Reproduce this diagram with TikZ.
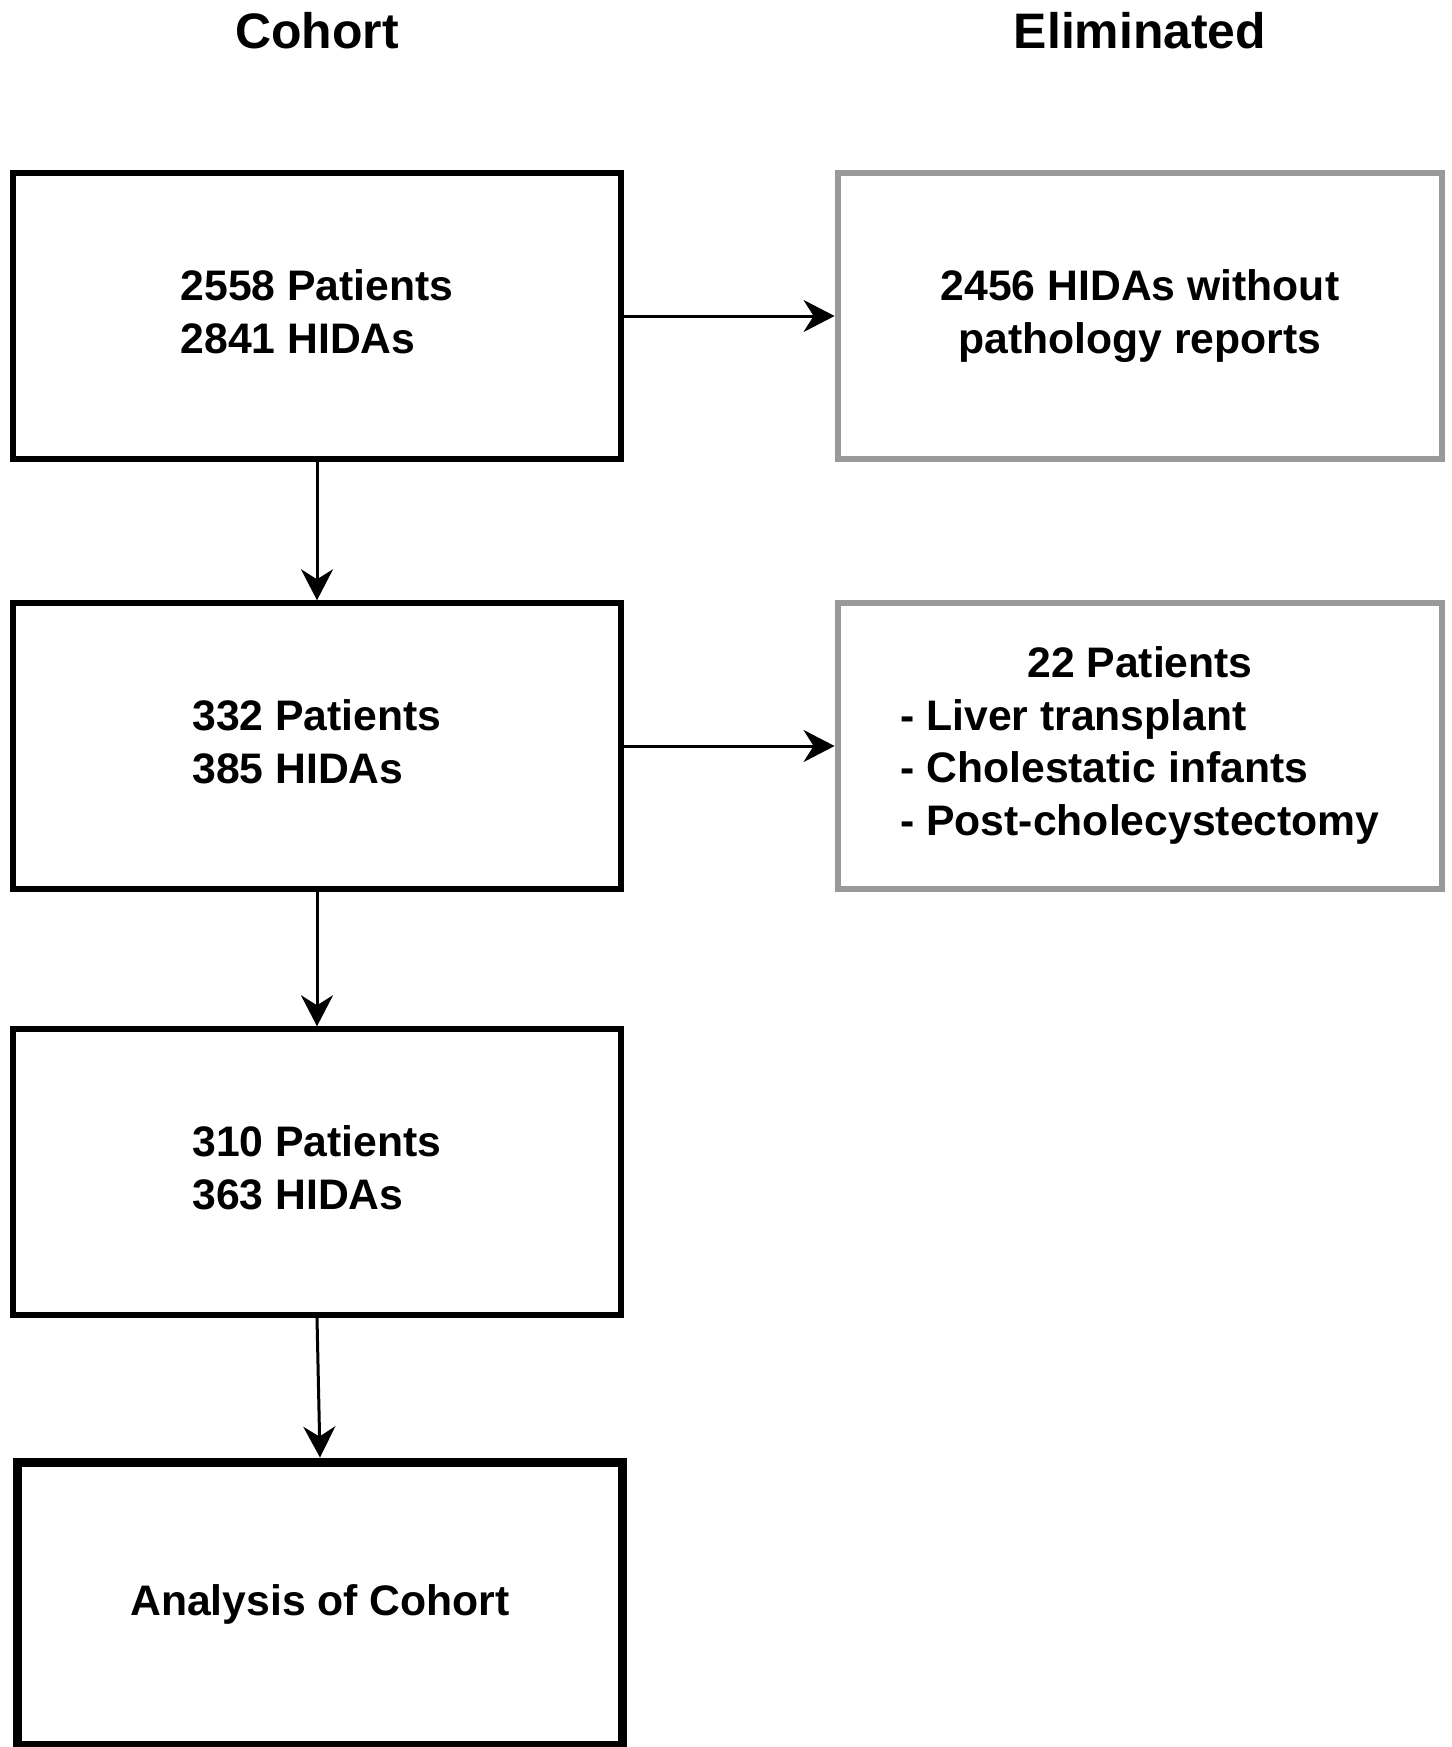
\documentclass[tikz,border=0pt]{standalone}
\usepackage{fontspec}
\setmainfont{Liberation Sans}
\usetikzlibrary{arrows.meta,shapes,positioning}

\begin{document}
\begin{tikzpicture}[x=0.02cm,y=-0.02cm]

		\tikzstyle{cohort} = [
			draw=black,
			line width=0.12cm,
			minimum width=12.16cm,
			minimum height=5.71cm,
			inner sep=0pt,
			align=left,
			font=\fontsize{24.3}{30}\selectfont\bfseries
		]
		\tikzstyle{eliminated} = [cohort, draw=black!40, minimum width=12.1cm, align=center]
		\tikzstyle{final} = [cohort, line width=0.18cm, minimum width=12.11cm, minimum height=5.68cm]
		\tikzstyle{heading} = [font=\fontsize{28.4}{34}\selectfont\bfseries]
		\tikzstyle{flow} = [line width=0.06cm, -{Stealth[length=0.62cm, width=0.64cm, inset=0.2cm]}]

		\useasboundingbox (0,0) rectangle (1452,1747);

		\node (cohorthead) [style=heading] at (317,31) {Cohort};
		\node (elimhead) [style=heading] at (1140,31) {Eliminated};

		\node (all) [style=cohort] at (317,316) {2558 Patients\\2841 HIDAs\vphantom{y}};
		\node (nopath) [style=eliminated] at (1140,316) {2456 HIDAs without\\pathology reports};

		\node (withpath) [style=cohort] at (317,746) {332 Patients\\385 HIDAs\vphantom{y}};
		\node (excluded) [style=eliminated] at (1140,746) {\begin{tabular}{@{}l@{}}
			\multicolumn{1}{@{}c@{}}{22 Patients}\\
			- Liver transplant\\
			- Cholestatic infants\\
			- Post-cholecystectomy
		\end{tabular}};

		\node (kept) [style=cohort] at (317,1172) {310 Patients\\363 HIDAs\vphantom{y}};
		\node (analysis) [style=final] at (320,1604) {Analysis of Cohort};

		\draw [style=flow] (all) -- (nopath);
		\draw [style=flow] (all) -- (withpath);
		\draw [style=flow] (withpath) -- (excluded);
		\draw [style=flow] (withpath) -- (kept);
		\draw [style=flow] (kept.south) -- (analysis.north);

	\end{tikzpicture}
\end{document}
